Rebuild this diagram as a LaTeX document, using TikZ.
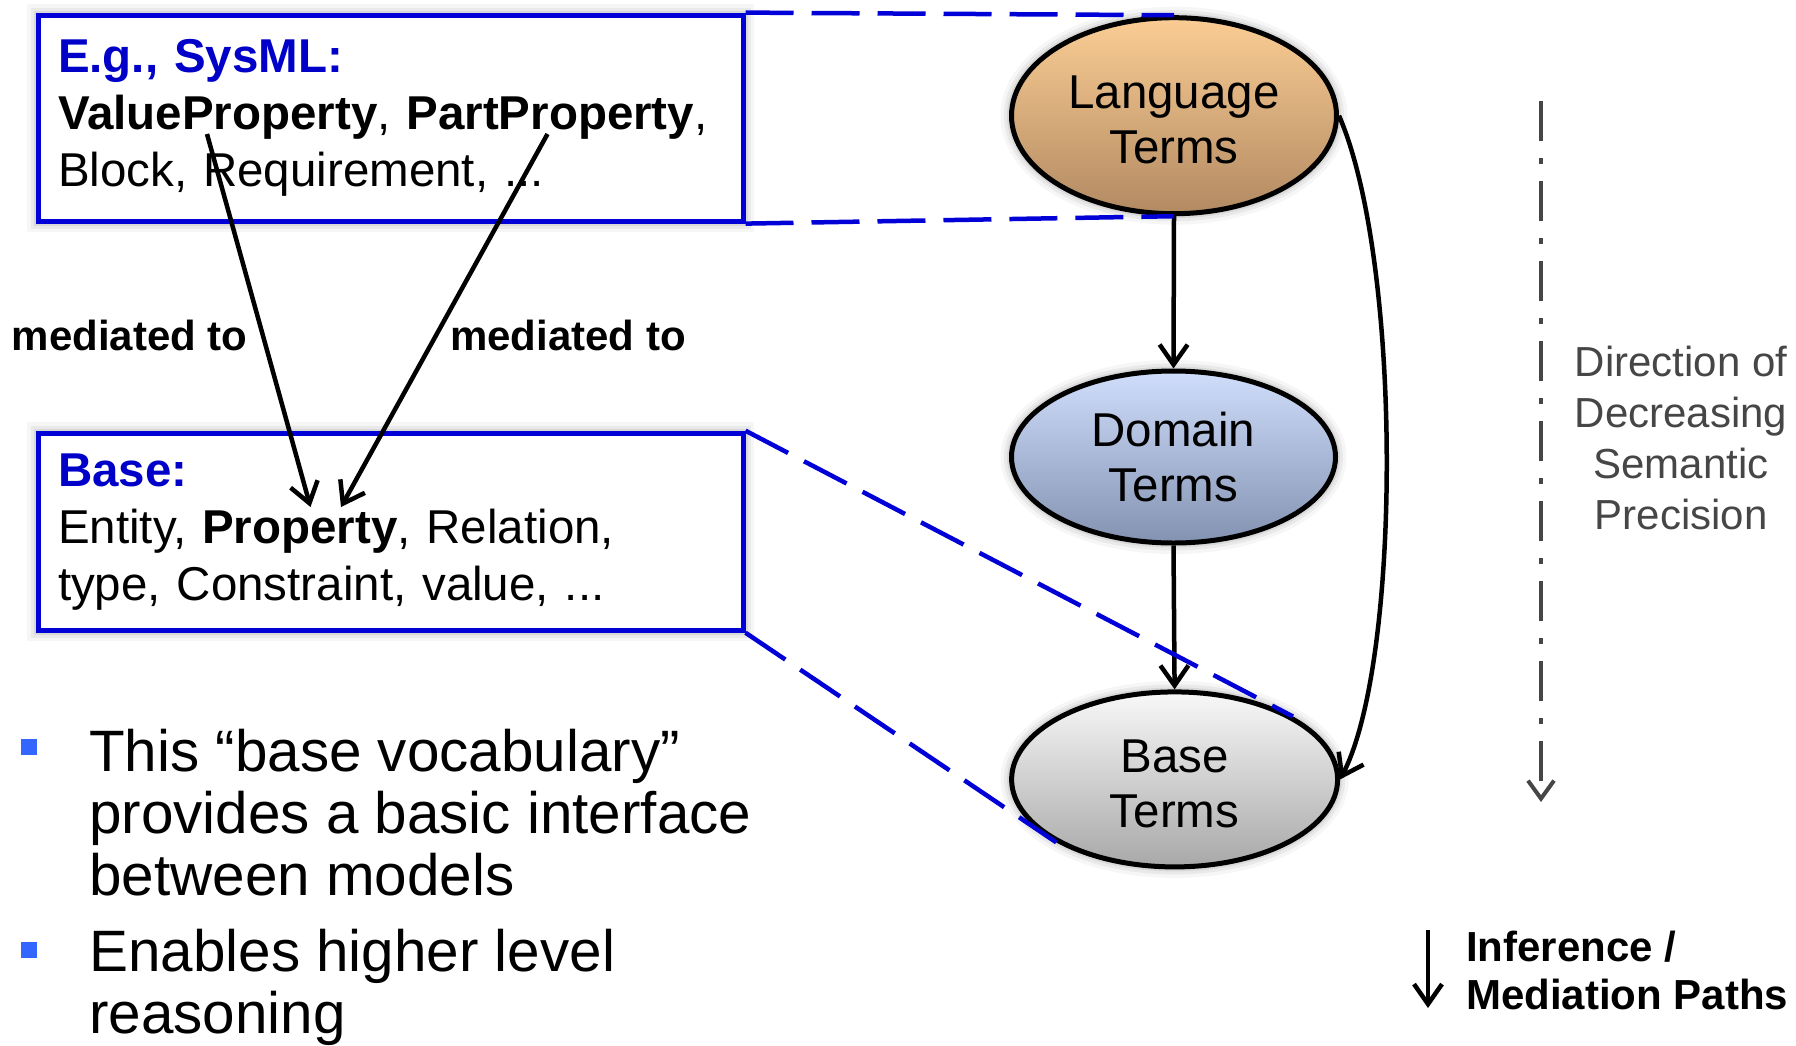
\documentclass[tikz,border=0pt]{standalone}
\usepackage{fontspec}
\setmainfont{Liberation Sans}
\usetikzlibrary{arrows.meta,shapes.geometric}

\definecolor{boxblue}{RGB}{0,0,215}
\definecolor{titleblue}{RGB}{0,0,200}
\definecolor{bulletblue}{RGB}{51,102,255}
\definecolor{dirgray}{RGB}{70,70,70}
\definecolor{langtop}{RGB}{251,205,148}
\definecolor{langbot}{RGB}{178,138,98}
\definecolor{domtop}{RGB}{208,222,252}
\definecolor{dombot}{RGB}{132,146,178}
\definecolor{basetop}{RGB}{248,248,248}
\definecolor{basebot}{RGB}{168,168,168}

% strut that lowers a two-line ellipse label a little
\newcommand{\lowerstrut}{\rule{0pt}{42pt}}

\tikzset{
  halo/.style={
    preaction={draw=black,draw opacity=0.035,line width=22pt},
    preaction={draw=black,draw opacity=0.05,line width=15pt},
    preaction={draw=black,draw opacity=0.07,line width=9pt}
  },
  vocabbox/.style={rectangle, draw=boxblue, fill=white, line width=5pt, halo,
    anchor=north west, inner xsep=20pt, inner ysep=0pt,
    text width=665pt, minimum width=705pt, align=left,
    font=\fontsize{47.5}{57}\selectfont},
  term/.style={ellipse, draw=black, line width=5pt, inner sep=0pt, halo,
    align=center, font=\fontsize{47.5}{55}\selectfont},
  tip/.style={-{Straight Barb[length=20pt,width=28pt,line width=4.5pt]}},
  arr/.style={draw=black, line width=4.5pt, tip},
  zoomline/.style={draw=boxblue, line width=4.5pt, dash pattern=on 48pt off 18pt},
  medlabel/.style={anchor=base west, inner sep=0pt,
    font=\fontsize{42}{48}\selectfont\bfseries},
  bullettext/.style={anchor=base west, inner sep=0pt, align=left,
    font=\fontsize{58.4}{62}\selectfont},
  bulletsq/.style={rectangle, fill=bulletblue, minimum size=16pt, inner sep=0pt}
}

\begin{document}
\begin{tikzpicture}[x=1pt, y=-1pt]
\useasboundingbox (0,0) rectangle (1796,1045);

% vocabulary boxes
\node[vocabbox, minimum height=206pt] (sysml) at (35.5,12.6)
  {{\bfseries\color{titleblue}E.g., SysML:}\\
   \textbf{ValueProperty}, \textbf{PartProperty},\\
   Block, Requirement, ...};
\node[vocabbox, minimum height=197pt] (basebox) at (35.5,430.7)
  {{\bfseries\color{titleblue}Base:}\\
   Entity, \textbf{Property}, Relation,\\
   type, Constraint, value, ...};

% term hierarchy
\node[term, top color=langtop, bottom color=langbot,
      minimum width=325pt, minimum height=196pt] (lang) at (1174,115.7)
  {\lowerstrut Language\\Terms};
\node[term, top color=domtop, bottom color=dombot,
      minimum width=324pt, minimum height=172pt] (dom) at (1173.5,457)
  {Domain\\Terms};
\node[term, top color=basetop, bottom color=basebot,
      minimum width=326pt, minimum height=175pt] (base) at (1174.6,779.4)
  {\lowerstrut Base\\Terms};

\draw[arr] (lang.south) -- (dom.north);
\draw[arr] (dom.south) -- (base.north);
\draw[arr] (lang.east) .. controls (1402,260) and (1402,660) .. (base.east);

% mediation arrows between the boxes
\coordinate (vpFrom) at (207,134);
\coordinate (ppFrom) at (547.5,134);
\coordinate (propA) at (310.5,507);
\coordinate (propB) at (341,507);
\draw[arr] (vpFrom) -- (propA);
\draw[arr] (ppFrom) -- (propB);
\node[medlabel] (med1) at (11.5,350.6) {mediated to};
\node[medlabel] (med2) at (450,350.6) {mediated to};

% dashed zoom lines
\draw[zoomline] (sysml.north east) -- (lang.north);
\draw[zoomline] (sysml.south east) -- (lang.south);
\draw[zoomline] (basebox.north east) -- (base.28);
\draw[zoomline] (basebox.south east) -- (base.208);

% precision direction
\coordinate (precTop) at (1541,101);
\coordinate (precTip) at (1541,802);
\draw[draw=dirgray, line width=4pt, dash pattern=on 40pt off 17pt on 6pt off 17pt,
      -{Straight Barb[length=18pt,width=26pt,line width=4pt]}] (precTop) -- (precTip);
\node[anchor=base, inner sep=0pt, align=center, text=dirgray,
      font=\fontsize{42}{50.7}\selectfont] (prec) at (1681,529)
  {Direction of\\Decreasing\\Semantic\\Precision};

% legend
\coordinate (infTop) at (1428,930);
\coordinate (infTip) at (1428,1008);
\draw[arr] (infTop) -- (infTip);
\node[medlabel, align=left] (inf) at (1466,1009) {Inference /\\Mediation Paths};

% bullets
\node[bulletsq] (sq1) at (28.6,747) {};
\node[bulletsq] (sq2) at (28.6,950) {};
\node[bullettext] (b1) at (89,895)
  {This “base vocabulary”\\provides a basic interface\\between models};
\node[bullettext] (b2) at (89,1033) {Enables higher level\\reasoning};
\end{tikzpicture}
\end{document}
